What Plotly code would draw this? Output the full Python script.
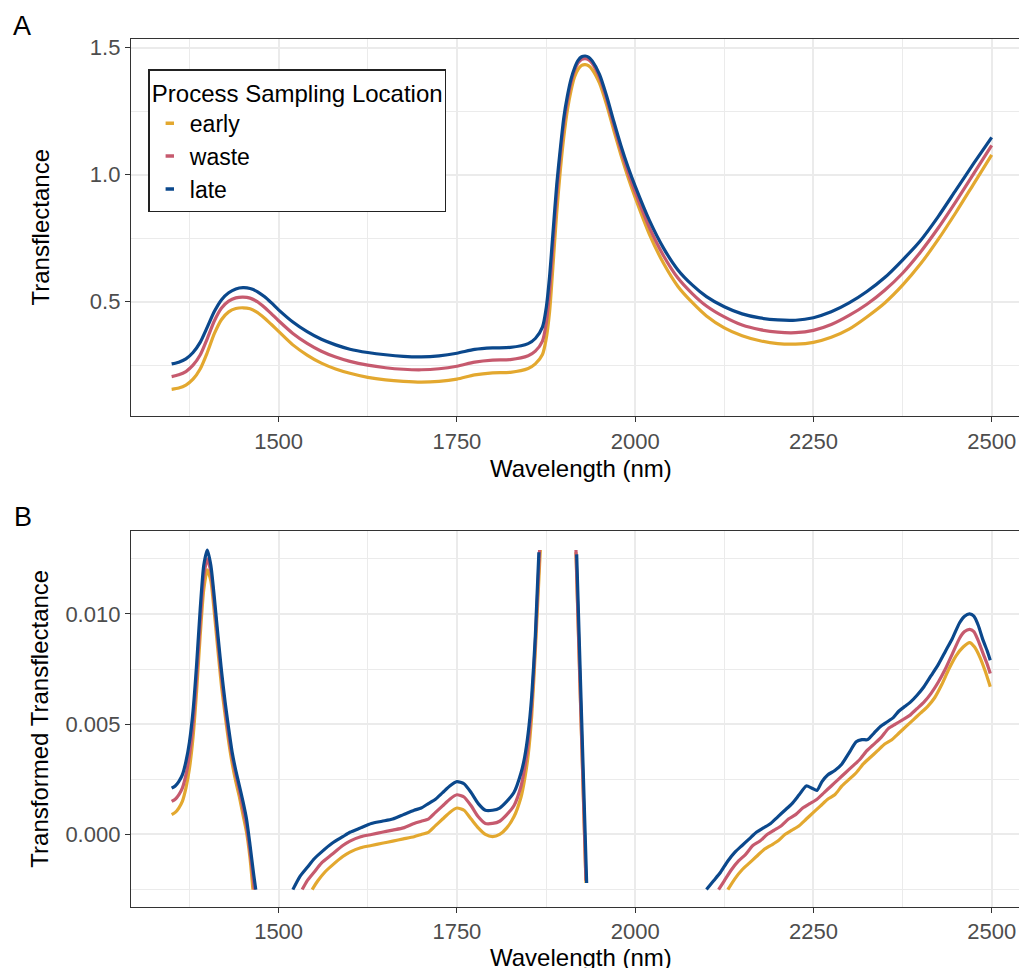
import plotly.graph_objects as go

FONT = "Liberation Sans, Arial, Helvetica, sans-serif"

# ---------------- Panel A data (Transflectance) ----------------
wavelength_a = [1350, 1360, 1370, 1380, 1390, 1400, 1410, 1420, 1430, 1440, 1450, 1460, 1470, 1480, 1490, 1500,
                1520, 1540, 1560, 1580, 1600,
                1625, 1650, 1675, 1700, 1725, 1750, 1775, 1800, 1825, 1850,
                1860, 1870,
                1875, 1880, 1885, 1890, 1895, 1900, 1905, 1910, 1915, 1920, 1925, 1930, 1935, 1940,
                1950, 1960, 1970, 1980, 1990, 2000,
                2020, 2040, 2060, 2080, 2100,
                2125, 2150, 2175, 2200, 2225, 2250, 2275, 2300, 2325, 2350, 2375, 2400, 2425, 2450, 2475, 2500]

late_a = [0.255, 0.262, 0.275, 0.300, 0.340, 0.400, 0.462, 0.508, 0.535, 0.550, 0.555, 0.552, 0.540, 0.520, 0.495, 0.468,
          0.420, 0.382, 0.352, 0.330, 0.313,
          0.300, 0.291, 0.285, 0.283, 0.287, 0.297, 0.312, 0.318, 0.320, 0.335,
          0.355, 0.400,
          0.470, 0.600, 0.780, 0.960, 1.100, 1.225, 1.310, 1.375, 1.420, 1.450, 1.464, 1.467, 1.462, 1.447,
          1.395, 1.310, 1.210, 1.115, 1.030, 0.955,
          0.820, 0.710, 0.625, 0.566, 0.520,
          0.480, 0.452, 0.436, 0.428, 0.427, 0.437, 0.460, 0.495, 0.540, 0.595, 0.664, 0.740, 0.835, 0.940, 1.045, 1.147]

waste_a = [0.205, 0.212, 0.225, 0.250, 0.290, 0.355, 0.425, 0.475, 0.502, 0.515, 0.518, 0.514, 0.500, 0.478, 0.452, 0.425,
           0.375, 0.336, 0.305, 0.282, 0.265,
           0.250, 0.240, 0.234, 0.232, 0.236, 0.246, 0.262, 0.270, 0.272, 0.287,
           0.305, 0.345,
           0.410, 0.540, 0.730, 0.920, 1.075, 1.200, 1.290, 1.360, 1.410, 1.440, 1.454, 1.457, 1.452, 1.437,
           1.383, 1.297, 1.195, 1.098, 1.010, 0.932,
           0.792, 0.680, 0.593, 0.532, 0.483,
           0.440, 0.408, 0.390, 0.380, 0.378, 0.387, 0.410, 0.446, 0.490, 0.545, 0.612, 0.695, 0.790, 0.895, 1.005, 1.115]

early_a = [0.155, 0.160, 0.172, 0.195, 0.235, 0.300, 0.375, 0.430, 0.460, 0.473, 0.476, 0.472, 0.458, 0.436, 0.410, 0.383,
           0.330, 0.290, 0.258, 0.235, 0.218,
           0.202, 0.192, 0.186, 0.183, 0.186, 0.195, 0.212, 0.220, 0.222, 0.237,
           0.255, 0.292,
           0.350, 0.460, 0.650, 0.850, 1.015, 1.150, 1.255, 1.330, 1.385, 1.415, 1.430, 1.433, 1.428, 1.413,
           1.360, 1.275, 1.175, 1.078, 0.990, 0.910,
           0.765, 0.650, 0.560, 0.497, 0.444,
           0.397, 0.366, 0.346, 0.335, 0.333, 0.340, 0.360, 0.392, 0.440, 0.495, 0.565, 0.648, 0.745, 0.852, 0.965, 1.078]

# ---------------- Panel B data (Transformed Transflectance) ----------------
# None marks points outside the plotted limits (-0.0025, 0.013)
late_b_x = [1350, 1355, 1360, 1365, 1370, 1375, 1380, 1385, 1390, 1395, 1400, 1405, 1410, 1415, 1420, 1425, 1430,
            1435, 1440, 1445, 1450, 1455, 1460, 1465, 1468, None,
            1520, 1530, 1540, 1550, 1560, 1575, 1590, 1600, 1615, 1630, 1645, 1660, 1675, 1690, 1700, 1710, 1720,
            1730, 1740, 1750, 1760, 1770, 1780, 1790, 1800, 1810, 1820, 1830, 1840, 1845, 1850, 1855, 1860, 1865, None,
            1918, 1925, 1932, None,
            2100, 2110, 2120, 2130, 2140, 2150, 2160, 2170, 2180, 2190, 2200, 2210, 2220, 2230, 2240, 2248, 2255,
            2262, 2270, 2280, 2290, 2300, 2310, 2318, 2326, 2335, 2344, 2353, 2362, 2370, 2378, 2386, 2395, 2405,
            2415, 2425, 2435, 2445, 2455, 2462, 2469, 2475, 2481, 2488, 2494, 2498]
late_b = [0.0021, 0.0022, 0.0024, 0.0027, 0.0033, 0.0042, 0.0056, 0.0077, 0.0102, 0.0122, 0.0129, 0.0122, 0.0107,
          0.0090, 0.0074, 0.0060, 0.0048, 0.0037, 0.0029, 0.0022, 0.0015, 0.0007, -0.0005, -0.0018, -0.0025, None,
          -0.0025, -0.0019, -0.0015, -0.0011, -0.0008, -0.0004, -0.0001, 0.0001, 0.0003, 0.0005, 0.0006, 0.0007,
          0.0009, 0.0011, 0.0012, 0.0014, 0.0016, 0.0019, 0.0022, 0.0024, 0.0023, 0.0019, 0.0014, 0.0011, 0.0011,
          0.0012, 0.0015, 0.0019, 0.0028, 0.0035, 0.0046, 0.0063, 0.0090, 0.0128, None,
          0.0127, 0.0052, -0.0022, None,
          -0.0025, -0.0021, -0.0017, -0.0012, -0.0008, -0.0005, -0.0002, 0.0001, 0.0003, 0.0005, 0.0008, 0.0011,
          0.0014, 0.0018, 0.0022, 0.0021, 0.0020, 0.0024, 0.0027, 0.0029, 0.0032, 0.0037, 0.0042, 0.0043, 0.0043,
          0.0046, 0.0049, 0.0051, 0.0053, 0.0056, 0.0058, 0.0060, 0.0063, 0.0067, 0.0072, 0.0077, 0.0083, 0.0089,
          0.0096, 0.0099, 0.0100, 0.0099, 0.0095, 0.0088, 0.0083, 0.0079]

waste_b_x = [1350, 1355, 1360, 1365, 1370, 1375, 1380, 1385, 1390, 1395, 1400, 1405, 1410, 1415, 1420, 1425, 1430,
             1435, 1440, 1445, 1450, 1455, 1460, 1465, 1466, None,
             1533, 1540, 1550, 1560, 1575, 1590, 1600, 1615, 1630, 1645, 1660, 1675, 1690, 1700, 1710, 1720, 1730,
             1740, 1750, 1760, 1770, 1780, 1790, 1800, 1810, 1820, 1830, 1840, 1845, 1850, 1855, 1860, 1866, None,
             1917, 1924, 1931, None,
             2117, 2125, 2135, 2145, 2155, 2165, 2175, 2185, 2195, 2205, 2215, 2225, 2235, 2245, 2255, 2265, 2275,
             2285, 2295, 2305, 2315, 2325, 2335, 2345, 2355, 2365, 2375, 2385, 2395, 2405, 2415, 2425, 2435, 2445,
             2455, 2462, 2469, 2475, 2481, 2488, 2494, 2498]
waste_b = [0.0015, 0.0016, 0.0018, 0.0021, 0.0027, 0.0036, 0.0050, 0.0071, 0.0096, 0.0117, 0.0125, 0.0119, 0.0104,
           0.0087, 0.0071, 0.0057, 0.0045, 0.0035, 0.0027, 0.0020, 0.0012, 0.0004, -0.0008, -0.0022, -0.0025, None,
           -0.0025, -0.0021, -0.0017, -0.0013, -0.0009, -0.0005, -0.0003, -0.0001, 0.0000, 0.0001, 0.0002, 0.0003,
           0.0005, 0.0006, 0.0007, 0.0010, 0.0013, 0.0016, 0.0018, 0.0017, 0.0013, 0.0008, 0.0005, 0.0005, 0.0006,
           0.0009, 0.0013, 0.0022, 0.0030, 0.0041, 0.0059, 0.0087, 0.0129, None,
           0.0129, 0.0054, -0.0021, None,
           -0.0025, -0.0021, -0.0016, -0.0012, -0.0009, -0.0005, -0.0003, 0.0000, 0.0002, 0.0004, 0.0007, 0.0009,
           0.0012, 0.0014, 0.0016, 0.0019, 0.0022, 0.0025, 0.0028, 0.0031, 0.0034, 0.0038, 0.0041, 0.0044, 0.0048,
           0.0050, 0.0052, 0.0054, 0.0057, 0.0060, 0.0064, 0.0069, 0.0075, 0.0082, 0.0089, 0.0092, 0.0093, 0.0092,
           0.0088, 0.0082, 0.0077, 0.0073]

early_b_x = [1350, 1355, 1360, 1365, 1370, 1375, 1380, 1385, 1390, 1395, 1400, 1405, 1410, 1415, 1420, 1425, 1430,
             1435, 1440, 1445, 1450, 1455, 1460, 1464, None,
             1547, 1555, 1565, 1575, 1590, 1600, 1615, 1630, 1645, 1660, 1675, 1690, 1700, 1710, 1720, 1730, 1740,
             1750, 1760, 1770, 1780, 1790, 1800, 1810, 1820, 1830, 1840, 1845, 1850, 1855, 1860, 1867, None,
             1917, 1924, 1931, None,
             2130, 2140, 2150, 2160, 2170, 2180, 2190, 2200, 2210, 2220, 2230, 2240, 2250, 2260, 2270, 2280, 2290,
             2300, 2310, 2320, 2330, 2340, 2350, 2360, 2370, 2380, 2390, 2400, 2410, 2420, 2430, 2440, 2450, 2460,
             2469, 2476, 2484, 2491, 2498]
early_b = [0.0009, 0.0010, 0.0012, 0.0015, 0.0021, 0.0030, 0.0044, 0.0065, 0.0090, 0.0111, 0.0120, 0.0115, 0.0100,
           0.0083, 0.0067, 0.0054, 0.0042, 0.0032, 0.0024, 0.0017, 0.0009, 0.0001, -0.0011, -0.0025, None,
           -0.0025, -0.0021, -0.0017, -0.0014, -0.0010, -0.0008, -0.0006, -0.0005, -0.0004, -0.0003, -0.0002,
           -0.0001, 0.0000, 0.0001, 0.0004, 0.0007, 0.0010, 0.0012, 0.0011, 0.0007, 0.0003, 0.0000, -0.0001, 0.0000,
           0.0003, 0.0008, 0.0017, 0.0025, 0.0036, 0.0054, 0.0083, 0.0129, None,
           0.0128, 0.0053, -0.0022, None,
           -0.0025, -0.0020, -0.0016, -0.0013, -0.0010, -0.0007, -0.0005, -0.0003, 0.0000, 0.0002, 0.0004, 0.0007,
           0.0010, 0.0013, 0.0016, 0.0018, 0.0022, 0.0025, 0.0028, 0.0032, 0.0035, 0.0038, 0.0041, 0.0043, 0.0046,
           0.0049, 0.0052, 0.0055, 0.0058, 0.0062, 0.0068, 0.0075, 0.0081, 0.0085, 0.0087, 0.0085, 0.0080, 0.0074,
           0.0067]

series_names = ["early", "waste", "late"]
series_colors = ["#E3A82F", "#C65A6E", "#0B488C"]

x_ticks = [1500, 1750, 2000, 2250, 2500]
x_minor = [1375, 1625, 1875, 2125, 2375]
ya_ticks = [0.5, 1.0, 1.5]
ya_ticktext = ["0.5", "1.0", "1.5"]
ya_minor = [0.25, 0.75, 1.25]
yb_ticks = [0.0, 0.005, 0.010]
yb_ticktext = ["0.000", "0.005", "0.010"]
yb_minor = [-0.0025, 0.0025, 0.0075, 0.0125]

# ---------------- Figure ----------------
W, H = 1019, 968
fig = go.Figure()

panel_a = [early_a, waste_a, late_a]
panel_b = [(early_b_x, early_b), (waste_b_x, waste_b), (late_b_x, late_b)]

for name, color, ys in zip(series_names, series_colors, panel_a):
    fig.add_trace(go.Scatter(x=wavelength_a, y=ys, mode="lines", name=name, showlegend=False,
                             line=dict(color=color, width=3.2, shape="spline", smoothing=0.7),
                             xaxis="x", yaxis="y", hoverinfo="skip"))
for name, color, (xs, ys) in zip(series_names, series_colors, panel_b):
    fig.add_trace(go.Scatter(x=xs, y=ys, mode="lines", name=name, showlegend=False, connectgaps=False,
                             line=dict(color=color, width=3.2, shape="spline", smoothing=0.6),
                             xaxis="x2", yaxis="y2", hoverinfo="skip"))
# legend keys (short dashes as in the original)
for name, color in zip(series_names, series_colors):
    fig.add_trace(go.Scatter(x=[None], y=[None], mode="markers", name=name, showlegend=True,
                             marker=dict(symbol="line-ew", size=6, color=color, line=dict(color=color, width=3.5)),
                             xaxis="x", yaxis="y"))

grid_col = "#EBEBEB"
axis_common = dict(
    showgrid=True, gridcolor=grid_col, gridwidth=2,
    showline=True, linecolor="#333333", linewidth=1.3,
    ticks="outside", ticklen=5, tickwidth=1.3, tickcolor="#333333",
    tickfont=dict(family=FONT, size=22, color="#4D4D4D"),
    zeroline=False, automargin=False,
)

x_dom = [131 / W, 1.0]
x_range = [1293.0, 2538.3]

xa = dict(axis_common, domain=x_dom, range=x_range, tickmode="array", tickvals=x_ticks, mirror=True,
          minor=dict(tickvals=x_minor, showgrid=True, gridcolor=grid_col, gridwidth=1.2))
fig.update_layout(
    width=W, height=H,
    margin=dict(l=0, r=0, t=0, b=0, autoexpand=False),
    paper_bgcolor="white", plot_bgcolor="white",
    font=dict(family=FONT, color="black"),
    xaxis=dict(xa, anchor="y"),
    xaxis2=dict(xa, anchor="y2"),
    yaxis=dict(axis_common, domain=[1 - 416 / H, 1 - 39 / H], range=[0.05, 1.534], anchor="x",
               tickmode="array", tickvals=ya_ticks, ticktext=ya_ticktext, mirror=False,
               minor=dict(tickvals=ya_minor, showgrid=True, gridcolor=grid_col, gridwidth=1.2)),
    yaxis2=dict(axis_common, domain=[1 - 906.7 / H, 1 - 530.7 / H], range=[-0.003275, 0.013775], anchor="x2",
                tickmode="array", tickvals=yb_ticks, ticktext=yb_ticktext, mirror=False,
                minor=dict(tickvals=yb_minor, showgrid=True, gridcolor=grid_col, gridwidth=1.2)),
    legend=dict(
        x=148.3 / W, y=1 - 69 / H, xanchor="left", yanchor="top",
        bgcolor="white", bordercolor="#222222", borderwidth=1.5,
        font=dict(family=FONT, size=23, color="black"),
        title=dict(text="Process Sampling Location", font=dict(family=FONT, size=24, color="black")),
        itemwidth=30, tracegroupgap=0,
    ),
    showlegend=True,
)

annots = [
    dict(text="A", x=11 / W, y=1 - 26 / H, xanchor="left", yanchor="middle", font=dict(size=27)),
    dict(text="B", x=12 / W, y=1 - 517 / H, xanchor="left", yanchor="middle", font=dict(size=27)),
    dict(text="Wavelength (nm)", x=581 / W, y=1 - 468 / H, xanchor="center", yanchor="middle", font=dict(size=24)),
    dict(text="Wavelength (nm)", x=581 / W, y=1 - 957.5 / H, xanchor="center", yanchor="middle", font=dict(size=24)),
    dict(text="Transflectance", x=40 / W, y=1 - 227.5 / H, xanchor="center", yanchor="middle", textangle=-90,
         font=dict(size=24)),
    dict(text="Transformed Transflectance", x=40 / W, y=1 - 718.7 / H, xanchor="center", yanchor="middle",
         textangle=-90, font=dict(size=24)),
]
for a in annots:
    a.update(xref="paper", yref="paper", showarrow=False)
    a["font"].update(family=FONT, color="black")
fig.update_layout(annotations=annots)

fig.write_html("out.html")
